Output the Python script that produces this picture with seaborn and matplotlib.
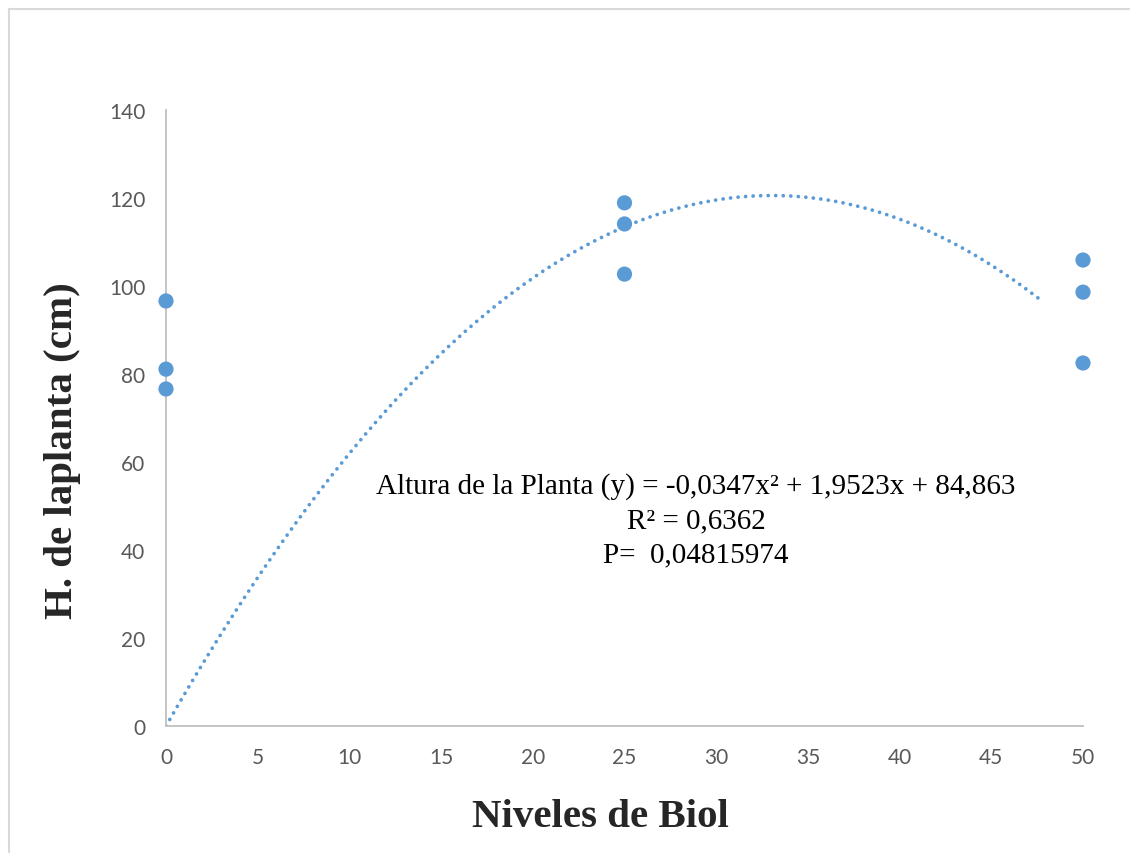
import numpy as np
import pandas as pd
import matplotlib
matplotlib.use("Agg")
import matplotlib.pyplot as plt
from matplotlib.lines import Line2D
import seaborn as sns

# ---- data ----
niveles = [0, 0, 0, 25, 25, 25, 50, 50, 50]
altura = [96.6, 81.1, 76.6, 118.9, 114.1, 102.7, 105.9, 98.6, 82.5]

# dotted trend curve as drawn (quadratic, coefficients)
trend_coef = [-0.1105, 7.3, 0.0]
trend_x_range = [0.0, 47.8]

x_ticks = [0, 5, 10, 15, 20, 25, 30, 35, 40, 45, 50]
y_ticks = [0, 20, 40, 60, 80, 100, 120, 140]

eq_lines = ["Altura de la Planta (y) = -0,0347x\u00b2 + 1,9523x + 84,863",
            "R\u00b2 = 0,6362",
            "P=  0,04815974"]

# ---- plot ----
sns.set_theme(style="white")
plt.rcParams['font.family'] = ['Lato', 'DejaVu Sans']

W, H = 1130, 854
fig = plt.figure(figsize=(W / 100, H / 100), dpi=100)
ax = fig.add_axes([166 / W, 1 - 727 / H, (1083 - 166) / W, (727 - 111) / H])

blue = "#5B9BD5"
df = pd.DataFrame({"Niveles": niveles, "Altura": altura})

tx = np.linspace(trend_x_range[0], trend_x_range[1], 200)
ty = np.polyval(trend_coef, tx)
trend = pd.DataFrame({"x": tx, "y": ty})
sns.lineplot(data=trend, x="x", y="y", ax=ax, color=blue, lw=2.7,
             linestyle=(0, (0.01, 2.0)), dash_capstyle="round", zorder=2)

sns.scatterplot(data=df, x="Niveles", y="Altura", ax=ax, color=blue,
                s=120, edgecolor="none", zorder=3, clip_on=False)

ax.set_xlim(0, 50)
ax.set_ylim(0, 140)
ax.set_xticks(x_ticks)
ax.set_yticks(y_ticks)
ax.tick_params(axis="both", length=0, pad=15, labelsize=15, labelcolor="#595959")
for s in ["top", "right"]:
    ax.spines[s].set_visible(False)
for s in ["left", "bottom"]:
    ax.spines[s].set_color("#BFBFBF")
    ax.spines[s].set_linewidth(1.3)
ax.grid(False)
ax.set_xlabel("")
ax.set_ylabel("")

fig.text(600 / W, 1 - 818 / H, "Niveles de Biol", ha="center", va="center",
         fontsize=29.5, fontweight="bold", family="Liberation Serif")
fig.text(63 / W, 1 - 451 / H, "H. de laplanta (cm)", ha="center", va="center",
         rotation=90, fontsize=29.5, fontweight="bold", family="Liberation Serif")

for i, line in enumerate(eq_lines):
    fig.text(696 / W, 1 - (487 + 34 * i) / H, line, ha="center", va="center",
             fontsize=21, family="Liberation Serif", color="black")

# chart border (light gray, left and top visible)
fig.add_artist(Line2D([8.5 / W, 8.5 / W], [0, 1 - 10 / H], color="#D9D9D9", lw=1.5,
                      transform=fig.transFigure))
fig.add_artist(Line2D([8.5 / W, 1], [1 - 10 / H, 1 - 10 / H], color="#D9D9D9", lw=1.5,
                      transform=fig.transFigure))

fig.savefig("out.png", dpi=100, facecolor="white")
